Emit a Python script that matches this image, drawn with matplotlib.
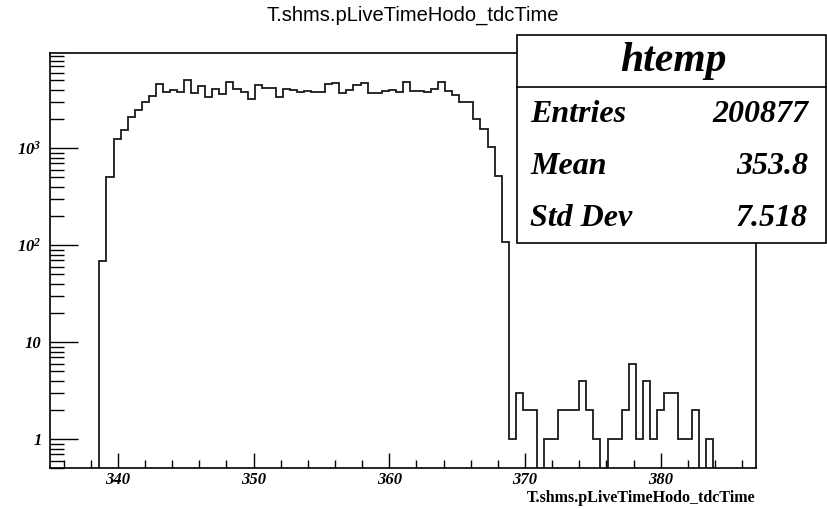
import numpy as np
import matplotlib
matplotlib.use("Agg")
import matplotlib.pyplot as plt
from matplotlib.patches import Rectangle
from matplotlib.lines import Line2D
from matplotlib.ticker import FixedLocator, LogLocator, NullFormatter, FuncFormatter

# ---------------- data ----------------
x_min, x_max, n_bins = 335.0, 387.0, 100
counts = [
    0, 0, 0, 0, 0, 0, 0, 69, 507, 1230,                    # 0-9
    1543, 2070, 2463, 3000, 3434, 4560, 3775, 3985, 3800, 5050,  # 10-19
    3700, 4330, 3400, 4100, 3600, 4820, 4050, 3800, 3175, 4455,  # 20-29
    4150, 4180, 3330, 4080, 3955, 3775, 3890, 3775, 3775, 4560,  # 30-39
    4640, 3720, 3955, 4485, 4640, 3720, 3720, 3890, 3955, 3775,  # 40-49
    4820, 3890, 3840, 3775, 4025, 4820, 3890, 3515, 3000, 3000,  # 50-59
    2004, 1560, 1016, 518, 108, 1, 3, 2, 2, 0,                   # 60-69
    1, 1, 2, 2, 2, 4, 2, 1, 0, 1,                                # 70-79
    1, 2, 6, 1, 4, 1, 2, 3, 3, 1,                                # 80-89
    1, 2, 0, 1, 0, 0, 0, 0, 0, 0,                                # 90-99
]
title = "T.shms.pLiveTimeHodo_tdcTime"
xlabel = "T.shms.pLiveTimeHodo_tdcTime"
stats_name = "htemp"
stats_labels = ["Entries", "Mean", "Std Dev"]
stats_values = ["200877", "353.8", "7.518"]
x_major = [340, 350, 360, 370, 380]
y_lim = (0.5, 9500)

# ---------------- figure ----------------
W, H = 827, 509
fig = plt.figure(figsize=(W / 100, H / 100), dpi=100)
fig.patch.set_facecolor("white")

def fx(px):
    return px / W

def fy(py):
    return 1 - py / H

L, R, T, B = 50, 755.7, 53.3, 468.3
ax = fig.add_axes([fx(L), fy(B), fx(R - L), fy(T) - fy(B)])

edges = np.linspace(x_min, x_max, n_bins + 1)
vals = np.array(counts, dtype=float)
draw_vals = np.where(vals > 0, vals, 1e-3)
ax.stairs(draw_vals, edges, baseline=1e-3, color="#1a1a1a", lw=1.3)

ax.set_yscale("log")
ax.set_xlim(x_min, x_max)
ax.set_ylim(*y_lim)

serif_bi = dict(family="Liberation Serif", weight="bold", style="italic")

# x ticks
ax.xaxis.set_major_locator(FixedLocator(x_major))
ax.xaxis.set_minor_locator(FixedLocator(np.arange(336, 387, 2)))
ax.tick_params(axis="x", which="major", direction="in", length=11, width=1, pad=3)
ax.tick_params(axis="x", which="minor", direction="in", length=5.5, width=1)
ax.tick_params(axis="y", which="major", direction="in", length=20, width=1, pad=6)
ax.tick_params(axis="y", which="minor", direction="in", length=10, width=1)
ax.tick_params(top=False, right=False, which="both")

ax.yaxis.set_major_locator(LogLocator(base=10, numticks=10))
ax.yaxis.set_minor_locator(LogLocator(base=10, subs=np.arange(2, 10), numticks=20))
ax.yaxis.set_minor_formatter(NullFormatter())

plt.rcParams["mathtext.fontset"] = "custom"
plt.rcParams["mathtext.rm"] = "Liberation Serif:bold:italic"
plt.rcParams["mathtext.it"] = "Liberation Serif:bold:italic"
plt.rcParams["mathtext.bf"] = "Liberation Serif:bold:italic"

def yfmt(v, pos):
    e = int(round(np.log10(v)))
    if e == 0:
        return "1"
    if e == 1:
        return "10"
    return r"$\mathregular{10^{%d}}$" % e

ax.yaxis.set_major_formatter(FuncFormatter(yfmt))
for lab in ax.get_xticklabels() + ax.get_yticklabels():
    lab.set_fontfamily("Liberation Serif")
    lab.set_fontweight("bold")
    lab.set_fontstyle("italic")
    lab.set_fontsize(12)

for s in ax.spines.values():
    s.set_linewidth(1.2)
    s.set_color("black")

# title and x label
fig.text(fx(413), fy(15), title, ha="center", va="center",
         family="Liberation Sans", fontsize=14.5)
fig.text(fx(755), fy(498), xlabel, ha="right", va="center",
         family="Liberation Serif", weight="bold", fontsize=11.5)

# stats box
bx0, bx1, by0, by1 = 516.7, 826, 35, 242.7
fig.patches.append(Rectangle((fx(bx0), fy(by1)), fx(bx1 - bx0), fy(by0) - fy(by1),
                             transform=fig.transFigure, facecolor="white",
                             edgecolor="black", lw=1.2, zorder=10))
fig.lines.append(Line2D([fx(bx0), fx(bx1)], [fy(86.5), fy(86.5)],
                        transform=fig.transFigure, color="black", lw=1.2, zorder=11))
fig.text(fx(673), fy(61), stats_name, ha="center", va="center",
         fontsize=30, zorder=12, **serif_bi)
row_y = [115, 167, 218]
for lab, val, yy in zip(stats_labels, stats_values, row_y):
    fig.text(fx(530), fy(yy), lab, ha="left", va="center", fontsize=23, zorder=12, **serif_bi)
    fig.text(fx(808), fy(yy), val, ha="right", va="center", fontsize=23, zorder=12, **serif_bi)

fig.savefig("out.png", dpi=100)
